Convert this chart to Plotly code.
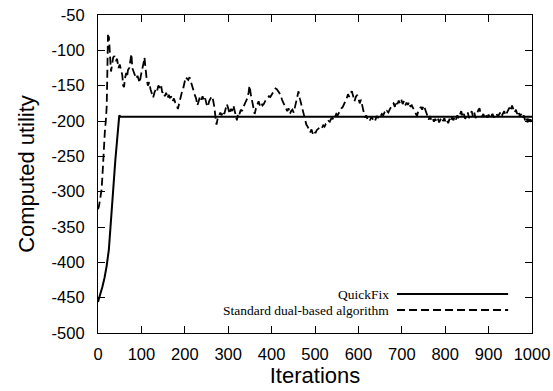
import plotly.graph_objects as go

# QuickFix (solid)
quickfix_iter = [0, 5, 10, 15, 20, 25, 29, 32, 35, 38, 40, 42, 44, 45, 46, 47, 49, 52, 1000]
quickfix_value = [-456, -446, -435, -422, -405, -382, -352, -326, -300, -272, -255, -240, -228,
                  -215, -203, -196, -192, -194, -194]

# Standard dual-based algorithm (dashed)
dual_iter = [0, 2, 5, 8, 10, 12, 14, 16, 18, 20, 21, 22, 23, 24, 25, 26, 27, 28, 30, 32, 35, 38,
             41, 44, 47, 50, 53, 56, 58, 60, 62, 65, 67, 69, 72, 75, 77, 79, 82, 85, 88, 91, 94,
             96, 99, 102, 105, 107, 109, 112, 115, 118, 121, 124, 127, 130, 133, 136, 139, 142,
             145, 148, 151, 154, 157, 160, 163, 166, 169, 172, 175, 178, 181, 184, 187, 190, 193,
             196, 199, 202, 205, 208, 211, 214, 217, 220, 223, 226, 229, 232, 235, 238, 241, 244,
             247, 250, 253, 256, 259, 262, 265, 268, 271, 273, 276, 279, 282, 285, 288, 291, 294,
             297, 300, 303, 306, 309, 312, 315, 318, 320, 323, 326, 329, 332, 335, 338, 341, 344,
             347, 349, 352, 355, 358, 361, 364, 367, 370, 373, 376, 379, 382, 385, 388, 391, 394,
             397, 400, 403, 406, 409, 412, 415, 418, 421, 424, 427, 430, 433, 436, 439, 442, 445,
             448, 451, 454, 457, 460, 462, 465, 468, 471, 474, 477, 480, 483, 486, 489, 492, 495,
             498, 501, 504, 507, 510, 513, 516, 519, 522, 525, 528, 531, 534, 537, 540, 543, 546,
             549, 552, 555, 558, 561, 564, 567, 570, 573, 576, 579, 582, 585, 588, 591, 594, 597,
             600, 603, 606, 609, 612, 615, 618, 621, 624, 627, 630, 633, 636, 639, 642, 645, 648,
             651, 654, 657, 660, 663, 666, 669, 672, 675, 678, 681, 684, 687, 690, 693, 696, 699,
             702, 705, 708, 711, 714, 717, 720, 723, 726, 729, 732, 735, 738, 741, 744, 747, 750,
             753, 756, 759, 762, 765, 768, 771, 774, 777, 780, 783, 786, 789, 792, 795, 798, 801,
             804, 807, 810, 813, 816, 819, 822, 825, 828, 831, 834, 837, 840, 843, 846, 849, 852,
             855, 858, 861, 864, 867, 870, 873, 876, 879, 882, 885, 888, 891, 894, 897, 900, 903,
             906, 909, 912, 915, 918, 921, 924, 927, 930, 933, 936, 939, 942, 945, 948, 951, 954,
             957, 960, 963, 966, 969, 972, 975, 978, 981, 984, 987, 990, 993, 996, 999]
dual_value = [-325, -321, -310, -298, -280, -250, -230, -213, -200, -180, -150, -115, -78, -85,
              -80, -100, -95, -110, -130, -118, -110, -108, -115, -112, -125, -120, -128, -135,
              -150, -152, -140, -132, -138, -128, -125, -112, -105, -125, -130, -137, -140, -136,
              -142, -146, -135, -128, -118, -110, -125, -140, -150, -145, -155, -162, -167, -160,
              -155, -158, -150, -152, -148, -160, -158, -165, -160, -168, -163, -167, -166, -172,
              -168, -174, -176, -183, -175, -165, -160, -155, -145, -138, -140, -142, -138, -145,
              -148, -155, -163, -168, -178, -172, -165, -170, -165, -172, -168, -176, -180, -172,
              -168, -165, -170, -180, -196, -205, -196, -192, -188, -192, -186, -190, -183, -176,
              -182, -190, -183, -186, -178, -185, -192, -199, -188, -190, -184, -186, -180, -176,
              -170, -168, -160, -150, -162, -170, -180, -190, -182, -175, -172, -178, -174, -178,
              -176, -172, -170, -168, -165, -166, -163, -160, -157, -154, -155, -158, -160, -163,
              -170, -174, -178, -183, -186, -182, -190, -186, -184, -188, -180, -172, -163, -158,
              -168, -176, -182, -190, -199, -205, -208, -213, -216, -212, -218, -214, -217, -213,
              -211, -210, -208, -210, -206, -208, -204, -204, -200, -201, -197, -196, -198, -194,
              -190, -192, -188, -186, -182, -180, -177, -172, -168, -162, -166, -160, -158, -165,
              -172, -166, -163, -168, -175, -170, -178, -185, -195, -192, -198, -196, -199, -194,
              -197, -195, -199, -193, -195, -191, -193, -190, -192, -188, -190, -186, -188, -184,
              -180, -177, -175, -180, -172, -176, -171, -175, -170, -176, -172, -178, -174, -177,
              -173, -180, -178, -182, -185, -190, -193, -186, -183, -180, -184, -178, -182, -187,
              -195, -198, -193, -199, -196, -201, -197, -200, -196, -202, -198, -195, -200, -196,
              -202, -199, -203, -197, -201, -195, -199, -194, -198, -192, -196, -190, -186, -194,
              -190, -197, -192, -188, -196, -190, -186, -194, -188, -196, -190, -185, -182, -191,
              -194, -190, -196, -192, -195, -191, -196, -193, -190, -195, -192, -189, -194, -190,
              -188, -193, -190, -186, -192, -188, -184, -181, -186, -178, -183, -188, -184, -190,
              -186, -194, -190, -196, -192, -199, -195, -202, -194, -201, -198]

x_ticks = [0, 100, 200, 300, 400, 500, 600, 700, 800, 900, 1000]
x_tick_labels = ["0", "100", "200", "300", "400", "500", "600", "700", "800", "900", "1000"]
y_ticks = [-500, -450, -400, -350, -300, -250, -200, -150, -100, -50]
y_tick_labels = ["-500", "-450", "-400", "-350", "-300", "-250", "-200", "-150", "-100", "-50"]
series_names = ["QuickFix", "Standard dual-based algorithm"]

fig = go.Figure()
fig.add_trace(go.Scatter(x=quickfix_iter, y=quickfix_value, mode="lines", name=series_names[0],
                         line=dict(color="black", width=2), showlegend=False))
fig.add_trace(go.Scatter(x=dual_iter, y=dual_value, mode="lines", name=series_names[1],
                         line=dict(color="black", width=1.8, dash="8px,4px"), showlegend=False))

# gnuplot-style key: right-aligned labels with line samples on the right
key_rows = [(0.1226, series_names[0], "solid", 2), (0.0723, series_names[1], "8px,4px", 1.8)]
for ky, label, dash, w in key_rows:
    fig.add_annotation(x=0.673, y=ky, xref="paper", yref="paper", text=label, showarrow=False,
                       xanchor="right", yanchor="middle", borderpad=0,
                       font=dict(family="Liberation Serif", size=13.5, color="black"))
    fig.add_shape(type="line", xref="paper", yref="paper", x0=0.689, x1=0.945, y0=ky, y1=ky,
                  line=dict(color="black", width=w, dash=dash))

axis_common = dict(showline=True, linecolor="black", linewidth=1.2, mirror="ticks",
                   ticks="inside", ticklen=7, tickwidth=1, tickcolor="black", showgrid=False,
                   zeroline=False, automargin=False,
                   tickfont=dict(family="Liberation Sans", size=16.5, color="black"))

fig.update_xaxes(range=[0, 1000], tickvals=x_ticks, ticktext=x_tick_labels, ticklabelstandoff=6,
                 title=dict(text="Iterations", standoff=4,
                            font=dict(family="Liberation Sans", size=22, color="black")),
                 **axis_common)
fig.update_yaxes(range=[-500, -50], tickvals=y_ticks, ticktext=y_tick_labels, ticklabelstandoff=9,
                 title=dict(text="Computed utility", standoff=10,
                            font=dict(family="Liberation Sans", size=22, color="black")),
                 **axis_common)

fig.update_layout(width=553, height=391, margin=dict(l=98, r=21, t=15, b=58),
                  plot_bgcolor="white", paper_bgcolor="white", showlegend=False)

fig.write_html("out.html")
